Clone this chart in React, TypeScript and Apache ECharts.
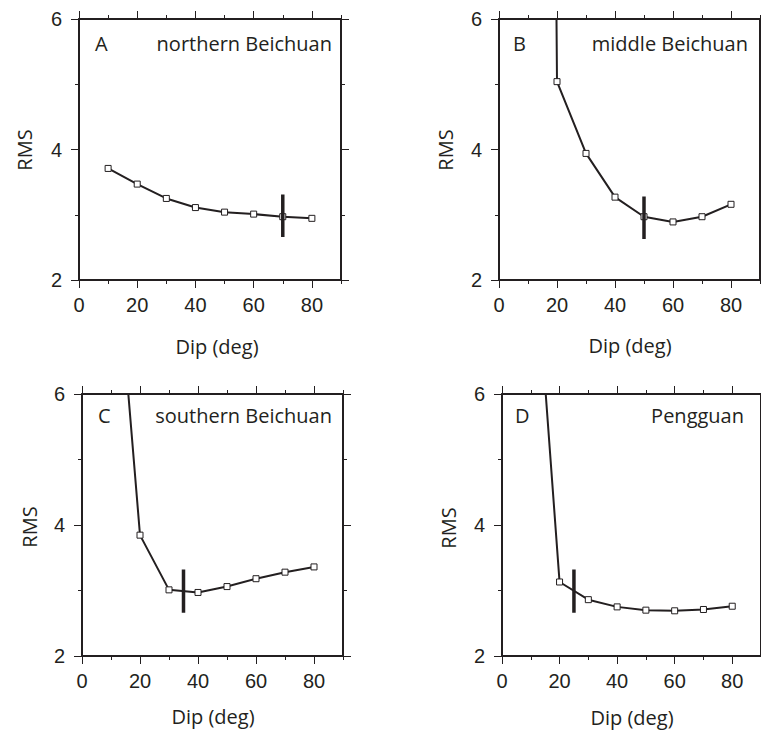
import React, { useEffect, useRef } from "react";
import * as echarts from "echarts";

const dips = [10, 20, 30, 40, 50, 60, 70, 80];
const rmsA = [3.71, 3.47, 3.25, 3.11, 3.04, 3.01, 2.97, 2.945];
const rmsB = [60, 5.04, 3.94, 3.27, 2.97, 2.89, 2.97, 3.16];
const rmsC = [9.2, 3.845, 3.01, 2.97, 3.06, 3.18, 3.28, 3.36];
const rmsD = [9.1, 3.13, 2.86, 2.75, 2.7, 2.69, 2.71, 2.76];

const bestDip = [70, 50, 35, 25];
const bestLow = [2.66, 2.63, 2.66, 2.66];
const bestHigh = [3.31, 3.28, 3.32, 3.32];

const letters = ["A", "B", "C", "D"];
const titles = ["northern Beichuan", "middle Beichuan", "southern Beichuan", "Pengguan"];

const xMajor = [0, 20, 40, 60, 80];
const xMinor = [10, 30, 50, 70, 90];
const yMajor = [2, 4, 6];
const yMinor = [3, 5];

const layout = [
  { left: 79, top: 19, width: 262, height: 261, letterX: 95, titleX: 332, textY: 43, rmsX: 24, rmsY: 150, dipX: 217, dipY: 346 },
  { left: 499, top: 19, width: 261, height: 261, letterX: 513, titleX: 748, textY: 43, rmsX: 445, rmsY: 150, dipX: 630, dipY: 345 },
  { left: 82, top: 394, width: 261, height: 262, letterX: 98, titleX: 332, textY: 415, rmsX: 29, rmsY: 527, dipX: 213, dipY: 716 },
  { left: 502, top: 394, width: 261, height: 262, letterX: 515, titleX: 744, textY: 415, rmsX: 448, rmsY: 528, dipX: 632, dipY: 717 },
];

const INK = "#231f20";
const tickFont = "'Liberation Sans', Arial, sans-serif";
const textFont = "'Open Sans', 'Noto Sans', sans-serif";

function xAxis(gi: number, position: string, values: number[], len: number, label: boolean, line: boolean) {
  return {
    type: "value",
    gridIndex: gi,
    position,
    min: 0,
    max: 90,
    interval: 20,
    axisLine: { show: line, onZero: false, lineStyle: { color: INK, width: 2 } },
    axisTick: { show: true, inside: false, length: len, customValues: values, lineStyle: { color: INK, width: 1 } },
    axisLabel: {
      show: label,
      customValues: values,
      margin: 15,
      fontSize: 20,
      fontFamily: tickFont,
      color: INK,
    },
    splitLine: { show: false },
    minorTick: { show: false },
  };
}

function yAxis(gi: number, position: string, values: number[], len: number, label: boolean, line: boolean) {
  return {
    type: "value",
    gridIndex: gi,
    position,
    min: 2,
    max: 6,
    interval: 2,
    axisLine: { show: line, onZero: false, lineStyle: { color: INK, width: 2 } },
    axisTick: { show: true, inside: false, length: len, customValues: values, lineStyle: { color: INK, width: 1 } },
    axisLabel: {
      show: label,
      customValues: values,
      margin: 17,
      fontSize: 20,
      fontFamily: tickFont,
      color: INK,
    },
    splitLine: { show: false },
  };
}

export default function App() {
  const ref = useRef<HTMLDivElement>(null);

  useEffect(() => {
    if (!ref.current) return;
    const chart = echarts.init(ref.current, undefined, { renderer: "svg" });
    const rmsAll = [rmsA, rmsB, rmsC, rmsD];

    const grids: any[] = [];
    const xAxes: any[] = [];
    const yAxes: any[] = [];
    const series: any[] = [];
    const graphics: any[] = [];

    layout.forEach((g, gi) => {
      grids.push({ left: g.left, top: g.top, width: g.width, height: g.height, containLabel: false });
      xAxes.push(xAxis(gi, "bottom", xMajor, 8, true, true));
      xAxes.push(xAxis(gi, "bottom", xMinor, 4, false, false));
      xAxes.push(xAxis(gi, "top", xMajor, 8, false, true));
      xAxes.push(xAxis(gi, "top", xMinor, 4, false, false));
      yAxes.push(yAxis(gi, "left", yMajor, 8, true, true));
      yAxes.push(yAxis(gi, "left", yMinor, 4, false, false));
      yAxes.push(yAxis(gi, "right", yMajor, 8, false, true));
      yAxes.push(yAxis(gi, "right", yMinor, 4, false, false));

      series.push({
        type: "line",
        xAxisIndex: gi * 4,
        yAxisIndex: gi * 4,
        data: dips.map((d, i) => [d, rmsAll[gi][i]]),
        clip: true,
        symbol: "rect",
        symbolSize: 6,
        showAllSymbol: true,
        lineStyle: { color: INK, width: 2 },
        itemStyle: { color: "#fff", borderColor: INK, borderWidth: 1 },
        z: 3,
      });
      series.push({
        type: "line",
        xAxisIndex: gi * 4,
        yAxisIndex: gi * 4,
        data: [
          [bestDip[gi], bestLow[gi]],
          [bestDip[gi], bestHigh[gi]],
        ],
        symbol: "none",
        lineStyle: { color: INK, width: 3.5 },
        z: 4,
      });

      graphics.push({
        type: "text",
        x: g.letterX,
        y: g.textY,
        style: { text: letters[gi], fontSize: 20, fontFamily: textFont, fill: INK, align: "left", verticalAlign: "middle" },
      });
      graphics.push({
        type: "text",
        x: g.titleX,
        y: g.textY,
        style: { text: titles[gi], fontSize: 20, fontFamily: textFont, fill: INK, align: "right", verticalAlign: "middle" },
      });
      graphics.push({
        type: "text",
        x: g.rmsX,
        y: g.rmsY,
        rotation: Math.PI / 2,
        style: { text: "RMS", fontSize: 20, fontFamily: textFont, fill: INK, align: "center", verticalAlign: "middle" },
      });
      graphics.push({
        type: "text",
        x: g.dipX,
        y: g.dipY,
        style: { text: "Dip (deg)", fontSize: 20, fontFamily: textFont, fill: INK, align: "center", verticalAlign: "middle" },
      });
    });

    chart.setOption({
      animation: false,
      backgroundColor: "#fff",
      grid: grids,
      xAxis: xAxes,
      yAxis: yAxes,
      series,
      graphic: graphics,
    });

    return () => chart.dispose();
  }, []);

  return (
    <div
      ref={ref}
      style={{ position: "absolute", left: 0, top: 0, width: 761, height: 731 }}
    />
  );
}
